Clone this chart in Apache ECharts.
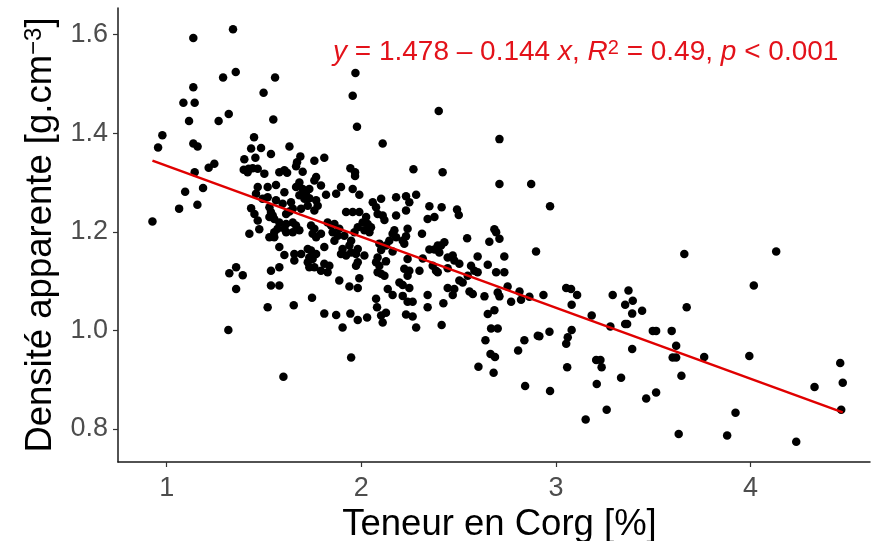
<!DOCTYPE html>
<html><head><meta charset="utf-8">
<script src="https://cdn.jsdelivr.net/npm/echarts@6/dist/echarts.min.js"></script>
<style>html,body{margin:0;padding:0;background:#fff}#c{width:871px;height:541px}</style>
</head><body><div id="c"></div>
<script>
// Corg content [%]
const corgValues = [
1.137,1.290,1.137,1.086,1.144,1.115,1.267,0.978,1.137,1.159,0.956,1.245,1.216,1.144,1.187,1.095,1.158,1.064,0.927,
1.341,1.355,1.557,1.498,1.319,1.548,1.970,1.956,2.398,
1.978,1.449,1.434,1.485,1.631,1.536,2.110,1.399,1.456,1.687,
1.670,1.665,1.759,1.810,1.396,1.421,1.442,1.468,1.502,1.416,
1.579,1.605,1.619,1.699,1.768,1.759,1.944,1.968,1.968,1.682,
1.665,1.699,1.716,1.733,1.793,1.468,1.519,1.562,1.896,1.956,
1.990,1.871,1.819,1.605,1.459,1.493,1.519,2.102,2.059,2.076,
2.084,2.110,1.682,1.708,1.733,1.768,1.776,1.759,1.725,1.562,
1.596,1.639,1.648,1.434,1.451,1.468,1.476,1.425,1.528,1.536,
1.545,1.553,1.528,1.614,1.631,1.691,1.922,1.956,1.990,2.025,
2.007,2.033,2.050,2.042,2.016,1.982,1.965,1.579,1.614,1.648,
1.665,1.605,1.570,1.553,1.682,1.742,1.759,1.750,1.793,1.768,
1.827,1.845,1.862,1.887,1.853,1.879,1.862,1.528,1.553,1.614,
1.648,1.913,1.948,1.939,1.904,1.896,1.922,1.948,1.973,1.982,
1.579,1.725,1.742,1.733,1.750,1.768,1.810,1.605,1.656,1.691,
1.656,1.725,1.733,1.759,1.793,1.827,1.836,1.810,2.016,1.982,
1.973,2.084,2.076,2.093,2.084,2.102,1.579,1.536,1.357,1.322,
1.391,1.536,1.579,1.357,1.887,1.939,1.982,1.990,1.747,1.653,
1.519,1.810,1.871,1.944,1.982,2.030,1.904,2.076,2.081,2.110,
2.102,1.317,2.093,2.102,
2.710,2.268,2.418,2.710,2.873,2.179,2.230,2.247,2.282,2.350,
2.413,2.492,2.501,2.230,2.179,2.119,2.341,2.376,2.170,2.161,
2.179,2.144,2.238,2.230,2.213,2.221,2.312,2.544,2.684,2.693,
2.658,2.710,2.127,2.161,2.427,2.410,2.393,2.376,2.350,2.401,
2.898,2.238,2.316,2.444,2.470,2.478,2.504,2.598,2.735,2.650,
2.127,2.367,2.384,2.393,2.221,2.247,2.238,2.299,2.119,2.444,
2.564,2.581,2.598,2.547,2.693,2.735,2.196,2.213,2.247,2.504,
2.521,2.136,2.161,2.444,2.478,2.470,2.556,2.573,2.752,2.701,
2.710,2.770,2.813,2.821,2.864,2.341,2.341,2.422,2.633,2.213,
2.238,2.264,2.127,2.230,2.264,2.282,2.413,2.650,2.684,2.667,
2.701,2.638,2.838,2.907,
1.948,2.664,2.687,2.602,2.680,1.600,
2.970,2.936,3.053,3.078,3.109,3.081,3.184,3.292,3.373,3.356,
3.395,3.392,3.443,3.356,3.366,3.280,3.498,3.515,3.595,3.660,
3.672,2.915,2.967,3.061,3.081,3.053,2.806,3.618,3.600,3.618,
3.392,3.058,3.207,3.229,3.235,2.842,2.970,3.210,3.335,3.645,
3.515,3.464,3.261,3.153,3.631,
4.132,4.017,3.762,3.994,4.461,4.474,4.329,4.466,3.923,3.880,4.235
];
// Bulk density [g.cm-3]
const densityValues = [
1.593,1.513,1.493,1.462,1.462,1.425,1.425,1.396,1.379,1.373,1.371,1.338,1.330,1.321,1.289,1.281,1.255,1.247,1.221,
1.611,1.524,1.513,1.482,1.439,1.428,1.522,1.476,1.445,
1.413,1.392,1.369,1.370,1.373,1.358,1.379,1.347,1.350,1.353,
1.341,1.333,1.344,1.350,1.326,1.328,1.329,1.328,1.318,1.321,
1.321,1.325,1.320,1.322,1.311,1.304,1.329,1.321,1.313,1.300,
1.291,1.287,1.280,1.287,1.294,1.291,1.291,1.295,1.291,1.287,
1.275,1.277,1.275,1.280,1.277,1.267,1.270,1.267,1.260,1.250,
1.236,1.233,1.274,1.267,1.268,1.264,1.253,1.243,1.253,1.264,
1.257,1.260,1.247,1.248,1.236,1.223,1.205,1.196,1.250,1.240,
1.233,1.226,1.230,1.236,1.241,1.247,1.240,1.240,1.240,1.230,
1.219,1.216,1.209,1.199,1.203,1.209,1.199,1.219,1.216,1.219,
1.213,1.206,1.206,1.199,1.203,1.213,1.206,1.196,1.196,1.189,
1.219,1.213,1.216,1.206,1.199,1.192,1.182,1.189,1.189,1.199,
1.199,1.192,1.182,1.172,1.165,1.155,1.152,1.158,1.155,1.165,
1.169,1.165,1.162,1.148,1.145,1.155,1.169,1.153,1.155,1.155,
1.142,1.138,1.128,1.128,1.121,1.118,1.131,1.135,1.152,1.138,
1.131,1.148,1.138,1.131,1.118,1.115,1.128,1.121,1.128,1.116,
1.112,1.091,1.091,1.084,1.101,1.089,1.086,1.106,1.066,1.051,
1.047,1.034,1.031,1.034,1.021,1.026,1.006,1.064,1.047,1.016,
1.030,1.001,1.176,1.163,
1.388,1.327,1.321,1.297,1.297,1.270,1.272,1.260,1.275,1.252,
1.250,1.245,1.234,1.243,1.233,1.224,1.226,1.230,1.203,1.196,
1.189,1.182,1.206,1.191,1.182,1.176,1.196,1.187,1.205,1.199,
1.180,1.186,1.172,1.160,1.179,1.172,1.172,1.164,1.164,1.158,
1.160,1.145,1.146,1.148,1.152,1.142,1.135,1.150,1.150,1.133,
1.140,1.131,1.121,1.118,1.125,1.121,1.111,1.121,1.111,1.126,
1.131,1.121,1.118,1.111,1.118,1.118,1.097,1.092,1.086,1.101,
1.097,1.084,1.072,1.086,1.084,1.072,1.079,1.074,1.089,1.077,
1.069,1.058,1.079,1.062,1.068,1.072,1.047,1.055,1.069,1.070,
1.058,1.058,1.036,1.032,1.028,1.006,1.011,1.033,1.041,1.004,
1.004,0.980,0.980,0.989,
0.945,0.952,0.946,0.926,0.914,0.906,
1.252,1.072,1.086,1.084,1.072,1.052,1.030,1.072,1.081,1.052,
1.060,1.034,1.040,1.013,1.013,1.008,0.999,0.999,0.999,1.155,
1.047,0.988,0.997,0.986,1.001,0.973,0.959,0.969,0.945,0.945,
0.962,0.925,0.940,0.940,0.925,0.887,0.877,0.891,0.904,0.908,
0.874,0.862,0.839,0.819,0.790,
1.160,1.091,0.946,0.948,0.934,0.894,0.885,0.839,0.833,0.787,0.774
];
const xTicks = [1, 2, 3, 4];
const yTicks = [0.8, 1.0, 1.2, 1.4, 1.6];
const regIntercept = 1.478;
const regSlope = -0.144;
const xTitle = 'Teneur en Corg [%]';
const yTitle = 'Densité apparente [g.cm{s|−3}]';
const eqText = '{i|y} = 1.478 – 0.144 {i|x}, {i|R}{s|2} = 0.49, {i|p} < 0.001';

const font = "'Liberation Sans', Arial, sans-serif";
const red = '#e3121a';
const pts = corgValues.map((x, i) => [x, densityValues[i]]);
const xmin = Math.min(...corgValues), xmax = Math.max(...corgValues);
const fitLine = [[xmin, regIntercept + regSlope * xmin], [xmax, regIntercept + regSlope * xmax]];

const chart = echarts.init(document.getElementById('c'), null, {renderer: 'canvas'});
chart.setOption({
  animation: false,
  backgroundColor: '#fff',
  title: {
    text: eqText, left: 328, top: 33,
    textStyle: {
      color: red, fontSize: 28, fontWeight: 'normal', fontFamily: font,
      rich: {
        i: {fontStyle: 'italic', fontSize: 28, color: red, fontFamily: font},
        s: {fontSize: 20, color: red, fontFamily: font, verticalAlign: 'top'}
      }
    }
  },
  grid: {left: 118, top: 8, width: 752, height: 454, containLabel: false, outerBoundsMode: 'none'},
  xAxis: {
    type: 'value', min: 0.75, max: 4.614,
    axisLine: {show: true, onZero: false, lineStyle: {color: '#1a1a1a', width: 1.5}},
    axisTick: {show: true, customValues: xTicks, length: 5, lineStyle: {color: '#333', width: 1.2}},
    axisLabel: {customValues: xTicks, color: '#4d4d4d', fontSize: 27, margin: 13, fontFamily: font},
    splitLine: {show: false},
    name: xTitle, nameLocation: 'middle', nameGap: 37,
    nameTextStyle: {color: '#000', fontSize: 36.5, fontFamily: font, padding: [0, 0, 0, 11]}
  },
  yAxis: {
    type: 'value', min: 0.733, max: 1.654,
    axisLine: {show: true, onZero: false, lineStyle: {color: '#1a1a1a', width: 1.5}},
    axisTick: {show: true, customValues: yTicks, length: 5, lineStyle: {color: '#333', width: 1.2}},
    axisLabel: {customValues: yTicks, color: '#4d4d4d', fontSize: 27, margin: 10, fontFamily: font,
      formatter: v => Number(v).toFixed(1)},
    splitLine: {show: false},
    name: yTitle, nameLocation: 'middle', nameGap: 54, nameRotate: 90,
    nameTextStyle: {color: '#000', fontSize: 36.5, fontFamily: font,
      rich: {s: {fontSize: 24, color: '#000', fontFamily: font, verticalAlign: 'top'}}}
  },
  series: [
    {type: 'scatter', data: pts, symbolSize: 8.5, itemStyle: {color: '#000', opacity: 1}, z: 2},
    {type: 'line', data: fitLine, showSymbol: false, lineStyle: {color: '#e00000', width: 2.5}, z: 3}
  ]
});
</script></body></html>
